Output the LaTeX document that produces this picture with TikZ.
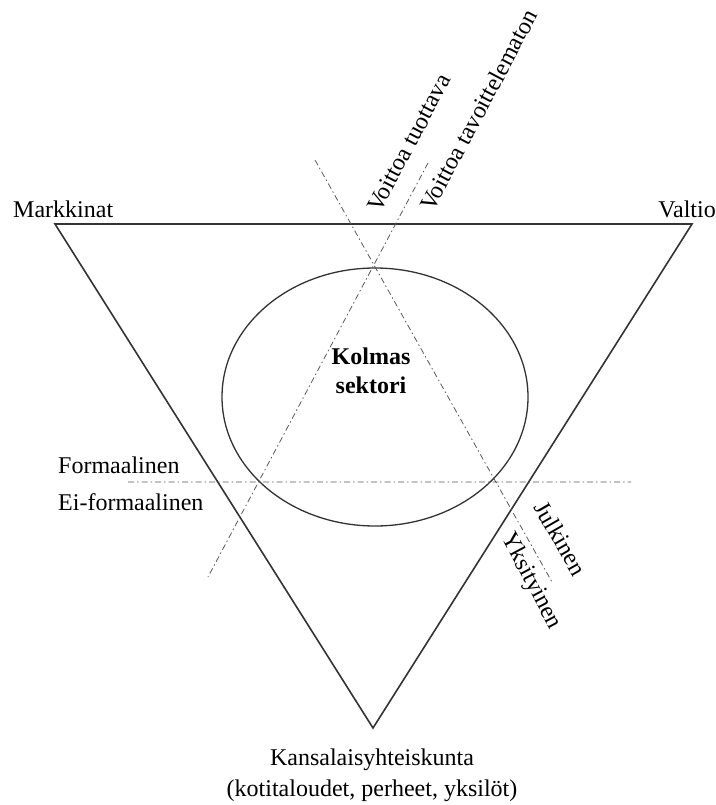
\documentclass[tikz,border=0pt]{standalone}
\usepackage{fontspec}
\setmainfont{Liberation Serif}
\usetikzlibrary{positioning,shapes,calc}

\begin{document}
\begin{tikzpicture}[x=1pt, y=-1pt,
        lbl/.style={inner sep=0pt, font=\fontsize{24}{28}\selectfont},
        axis/.style={black!65, line width=0.8pt, dash pattern=on 6pt off 3pt on 1.5pt off 3pt},
        side/.style={black!80, line width=1.6pt, line join=miter}]
        \useasboundingbox (0,0) rectangle (715,805);

        % kolmion karjet
        \coordinate (mk) at (55,224);
        \coordinate (vt) at (692,224);
        \coordinate (ky) at (373,728);
        \draw[side] (mk) -- (vt) -- (ky) -- cycle;

        % ellipsi
        \node[draw, black!80, line width=1.3pt, shape=ellipse, style={minimum width=306pt, minimum height=258pt}] (ks) at (375,397) {};
        \node[lbl, font=\fontsize{24}{29}\bfseries, align=center] (kst) at (371,371) {Kolmas\\sektori};

        % akselit
        \coordinate (a1) at (315,160);
        \coordinate (a2) at (552,582);
        \coordinate (b1) at (428,163);
        \coordinate (b2) at (208,577);
        \coordinate (h1) at (128,482);
        \coordinate (h2) at (631,482);
        \draw[axis] (a1) -- (a2) (b1) -- (b2) (h1) -- (h2);

        \node[lbl, anchor=base west] (mkt) at (13,217) {Markkinat};
        \node[lbl, anchor=base east] (vtt) at (716,217) {Valtio};
        \node[lbl, anchor=base west] (fo) at (58,473) {Formaalinen};
        \node[lbl, anchor=base west] (ef) at (58,510) {Ei-formaalinen};
        \node[lbl, rotate=62, anchor=base west] (vtu) at (380,214) {Voittoa tuottava};
        \node[lbl, rotate=62, anchor=base west] (vta) at (433,213) {Voittoa tavoittelematon};
        \node[lbl, rotate=-60, anchor=base west] (ju) at (533,507) {Julkinen};
        \node[lbl, rotate=-62, anchor=base west] (yk) at (501,537) {Yksityinen};
        \node[lbl, align=center, anchor=base] (kyt) at (372,765) {Kansalaisyhteiskunta};
        \node[lbl, anchor=base] (kyt2) [below=15pt of kyt.base] {(kotitaloudet, perheet, yksilöt)};

        \end{tikzpicture}
\end{document}
